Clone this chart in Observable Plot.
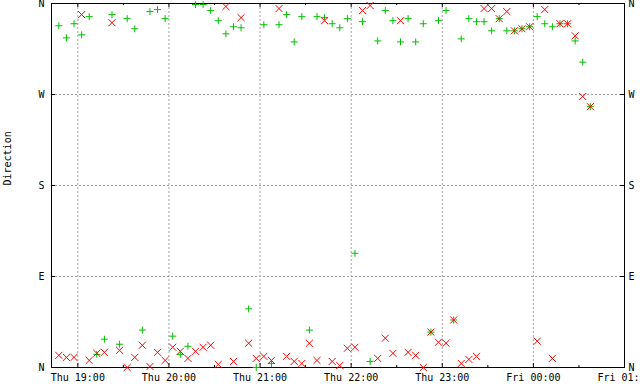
<!DOCTYPE html>
<html><head><meta charset="utf-8">
<script src="https://cdn.jsdelivr.net/npm/d3@7"></script>
<script src="https://cdn.jsdelivr.net/npm/@observablehq/plot@0.6"></script>
<style>
body{margin:0;overflow:hidden;background:#fff}
#chart{width:640px;height:384px;overflow:hidden}
</style>
</head><body><div id="chart"></div>
<script>
// Sample times (Thu evening into Fri morning)
const times = [
"18:47:30","18:52:30","18:57:30","19:02:30","19:07:30","19:12:30","19:17:30","19:22:30","19:27:30","19:32:30",
"19:37:30","19:42:30","19:47:30","19:52:30","19:57:30","20:02:30","20:07:30","20:12:30","20:17:30","20:22:30",
"20:27:30","20:32:30","20:37:30","20:42:30","20:47:30","20:52:30","20:57:30","21:02:30","21:07:30","21:12:30",
"21:17:30","21:22:30","21:27:30","21:32:30","21:37:30","21:42:30","21:47:30","21:52:30","21:57:30","22:02:30",
"22:07:30","22:12:30","22:17:30","22:22:30","22:27:30","22:32:30","22:37:30","22:42:30","22:47:30","22:52:30",
"22:57:30","23:02:30","23:07:30","23:12:30","23:17:30","23:22:30","23:27:30","23:32:30","23:37:30","23:42:30",
"23:47:30","23:52:30","23:57:30","00:02:30","00:07:30","00:12:30","00:17:30","00:22:30","00:27:30","00:32:30",
"00:37:30"];
// Direction in degrees (0 = N, 90 = E, 180 = S, 270 = W, 360 = N)
const greenDir = [
338,326,340,329,347,13,28,349,23,345,
335,37,352,354,345,31,13,21,359,359,
353,343,330,337,336,58,0,339,4,339,
349,322,347,37,347,346,340,336,345,113,
342,6,323,353,343,322,345,322,340,35,
343,353,47,325,345,342,342,333,345,333,
333,335,337,347,340,337,340,340,323,302,
258];
const redDir = [
12,10,10,349,7,14,15,341,17,0,
10,22,1,15,7,20,16,9,16,20,
22,3,357,6,346,24,9,11,7,355,
11,6,4,24,7,343,6,2,19,20,
353,358,9,29,14,343,15,12,0,35,
25,24,47,4,8,11,355,355,345,352,
333,335,337,26,354,9,340,340,328,268,
258];
const xTickTimes = ["19:00","20:00","21:00","22:00","23:00","00:00","01:00"];
const xTickLabels = ["Thu 19:00","Thu 20:00","Thu 21:00","Thu 22:00","Thu 23:00","Fri 00:00","Fri 01:00"];
const xMinorTimes = ["19:30","20:30","21:30","22:30","23:30","00:30"];
const xDomainTimes = ["18:42:40","01:00:00"];
const yTickValues = [0,90,180,270,360];
const yTickLabels = ["N","E","S","W","N"];
const yGridValues = [90,180,270];
const yTitle = "Direction";

function toDate(s){
  const [h,m,sec] = s.split(":").map(Number);
  return new Date(2000, 0, h >= 12 ? 6 : 7, h, m, sec || 0);
}
const greenData = times.map((t,i)=>({t: toDate(t), d: greenDir[i]}));
const redData = times.map((t,i)=>({t: toDate(t), d: redDir[i]}));
const majorTicks = xTickTimes.map(toDate);
const minorTicks = xMinorTimes.map(toDate);
const gridTicks = majorTicks.slice(0, majorTicks.length - 1);
const xLabelMap = new Map(majorTicks.map((d,i)=>[+d, xTickLabels[i]]));
const yLabelMap = new Map(yTickValues.map((v,i)=>[v, yTickLabels[i]]));

const gridStyle = {stroke: "#a0a0a0", strokeOpacity: 1, strokeWidth: 1, strokeDasharray: "2,2"};

const chart = Plot.plot({
  width: 640, height: 384,
  marginLeft: 51, marginRight: 16, marginTop: 3, marginBottom: 17,
  style: {fontFamily: "'DejaVu Sans Mono', monospace", fontSize: "10px", background: "#fff", color: "#000"},
  x: {type: "time", domain: xDomainTimes.map(toDate)},
  y: {domain: [0, 360]},
  marks: [
    Plot.gridX(gridTicks, {...gridStyle}),
    Plot.gridY(yGridValues, {...gridStyle}),
    Plot.frame({stroke: "#000", strokeWidth: 1}),
    Plot.tickX(majorTicks, {x: d=>d, insetTop: 360, stroke: "#000"}),
    Plot.tickX(majorTicks, {x: d=>d, insetBottom: 360, stroke: "#000"}),
    Plot.tickX(minorTicks, {x: d=>d, insetTop: 362, stroke: "#000"}),
    Plot.tickX(minorTicks, {x: d=>d, insetBottom: 362, stroke: "#000"}),
    Plot.tickY(yTickValues, {y: d=>d, insetRight: 569, stroke: "#000"}),
    Plot.tickY(yTickValues, {y: d=>d, insetLeft: 569, stroke: "#000"}),
    Plot.axisX(majorTicks, {anchor: "bottom", tickSize: 0, tickPadding: 6, tickFormat: d=>xLabelMap.get(+d), label: null, fill: "#000"}),
    Plot.axisY(yTickValues, {anchor: "left", tickSize: 0, tickPadding: 7, tickFormat: d=>yLabelMap.get(d), label: null, fill: "#000"}),
    Plot.axisY(yTickValues, {anchor: "right", tickSize: 0, tickPadding: 4, tickFormat: d=>yLabelMap.get(d), label: null, fill: "#000"}),
    Plot.text([yTitle], {frameAnchor: "left", text: d=>d, rotate: -90, dx: -44, fill: "#000"}),
    Plot.dot(greenData, {x: "t", y: "d", symbol: "plus", r: 2.4, stroke: "#00c000", strokeWidth: 1}),
    Plot.dot(redData, {x: "t", y: "d", symbol: "times", r: 3.3, stroke: "#ff0000", strokeWidth: 1})
  ]
});
document.getElementById("chart").appendChild(chart);
</script>
</body></html>
